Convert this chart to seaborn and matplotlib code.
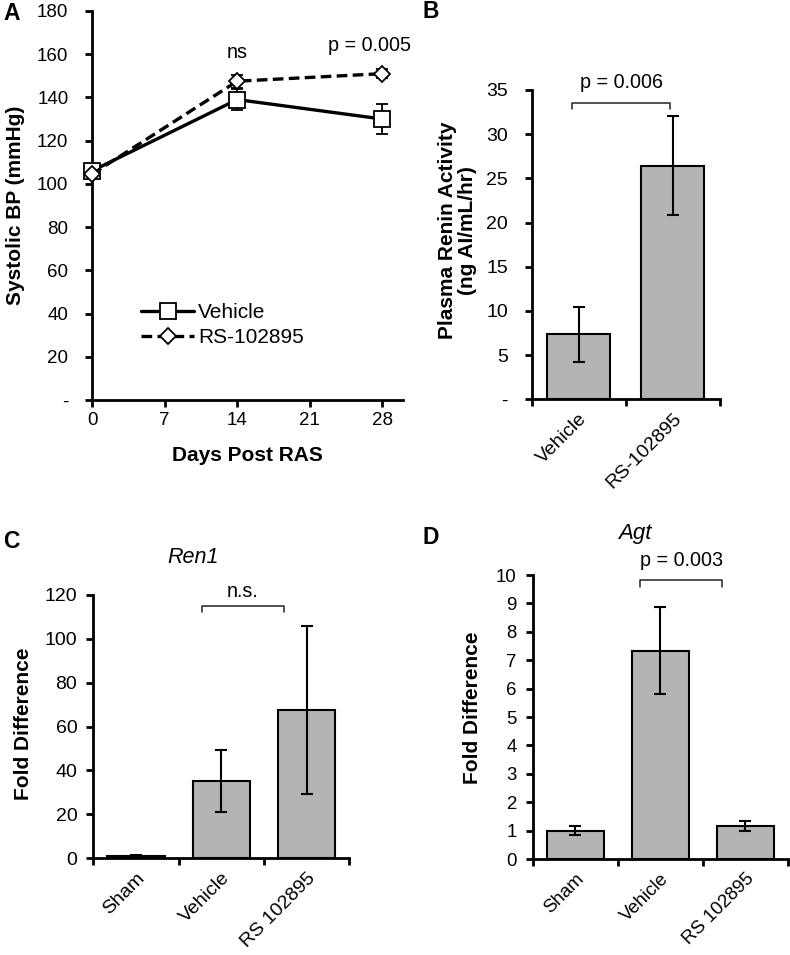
import numpy as np
import pandas as pd
import matplotlib
matplotlib.use("Agg")
import matplotlib.pyplot as plt
import seaborn as sns
from matplotlib.ticker import FixedLocator, FuncFormatter

# ---------------- data ----------------
days = [0, 14, 28]
vehicle_bp = [106, 139, 130]
vehicle_bp_err = [2, 5, 7]
rs_bp = [104.5, 147.5, 151]
rs_bp_err = [1.5, 3, 2]

pra_groups = ["Vehicle", "RS-102895"]
pra_values = [7.35, 26.4]
pra_err = [3.1, 5.6]

gene_groups = ["Sham", "Vehicle", "RS 102895"]
ren1_values = [1.0, 35.2, 67.5]
ren1_err = [0.3, 14.2, 38.2]
agt_values = [1.0, 7.33, 1.16]
agt_err = [0.17, 1.53, 0.17]

x_ticks_a = [0, 7, 14, 21, 28]
y_ticks_a = [0, 20, 40, 60, 80, 100, 120, 140, 160, 180]
y_ticks_b = [0, 5, 10, 15, 20, 25, 30, 35]
y_ticks_c = [0, 20, 40, 60, 80, 100, 120]
y_ticks_d = list(range(0, 11))

# ---------------- style ----------------
sns.set_theme(style="ticks")
plt.rcParams["font.family"] = ["Liberation Sans", "DejaVu Sans"]
plt.rcParams["axes.linewidth"] = 2.0
plt.rcParams["xtick.color"] = "black"
plt.rcParams["ytick.color"] = "black"
plt.rcParams["axes.edgecolor"] = "black"
plt.rcParams["text.color"] = "black"
plt.rcParams["axes.labelcolor"] = "black"

BAR_COLOR = "#b4b4b4"
LABEL_FS = 15

fig = plt.figure(figsize=(7.9, 9.55), dpi=100)
axA = fig.add_axes([0.1165, 0.5812, 0.3937, 0.4073])
axB = fig.add_axes([0.673, 0.5819, 0.2384, 0.3239])
axC = fig.add_axes([0.1181, 0.1013, 0.324, 0.2757])
axD = fig.add_axes([0.6743, 0.1005, 0.3232, 0.2974])

dash_fmt = FuncFormatter(lambda v, p: "-" if v == 0 else f"{v:g}")

def style_axes(ax, fs, ypad):
    sns.despine(ax=ax)
    ax.spines["left"].set_linewidth(2.0)
    ax.spines["bottom"].set_linewidth(2.0)
    ax.tick_params(axis="both", which="both", direction="out", length=5,
                   width=2.0, labelsize=fs, colors="black")
    ax.tick_params(axis="y", pad=ypad)

# ---------------- Panel A ----------------
dfA = pd.DataFrame({"day": days * 2,
                    "bp": vehicle_bp + rs_bp,
                    "err": vehicle_bp_err + rs_bp_err,
                    "group": ["Vehicle"] * 3 + ["RS-102895"] * 3})
veh = dfA[dfA.group == "Vehicle"]
rs = dfA[dfA.group == "RS-102895"]

axA.errorbar(veh.day, veh.bp, yerr=veh.err, fmt="none", ecolor="black",
             elinewidth=1.3, capsize=4, capthick=1.3, zorder=2)
axA.errorbar(rs.day, rs.bp, yerr=rs.err, fmt="none", ecolor="black",
             elinewidth=1.3, capsize=4, capthick=1.3, zorder=2)
sns.lineplot(data=veh, x="day", y="bp", ax=axA, color="black", lw=2.4,
             marker="s", markersize=11, markerfacecolor="white",
             markeredgecolor="black", markeredgewidth=1.3,
             label="Vehicle", zorder=3, clip_on=False)
sns.lineplot(data=rs, x="day", y="bp", ax=axA, color="black", lw=2.4,
             linestyle=(0, (3.2, 1.6)), marker="D", markersize=8,
             markerfacecolor="white", markeredgecolor="black",
             markeredgewidth=1.3, label="RS-102895", zorder=4, clip_on=False)
axA.set_xlim(0, 30)
axA.set_ylim(0, 180)
axA.xaxis.set_major_locator(FixedLocator(x_ticks_a))
axA.yaxis.set_major_locator(FixedLocator(y_ticks_a))
axA.yaxis.set_major_formatter(dash_fmt)
style_axes(axA, 13.5, 12)
axA.set_xlabel("Days Post RAS", fontsize=LABEL_FS, fontweight="bold")
axA.set_ylabel("Systolic BP (mmHg)", fontsize=LABEL_FS, fontweight="bold")
axA.yaxis.set_label_coords(-0.215, 0.5)
axA.xaxis.set_label_coords(0.5, -0.118)
leg = axA.legend(loc="upper left", bbox_to_anchor=(0.097, 0.297), frameon=False,
                 fontsize=15, handlelength=2.55, handletextpad=0.2,
                 labelspacing=0.3)
axA.text(14, 161, "ns", ha="center", va="center", fontsize=14.2)
axA.text(26.8, 164, "p = 0.005", ha="center", va="center", fontsize=14.2)

# ---------------- bar helper ----------------
def bar_panel(ax, groups, values, errs, ylim, yticks, fmt=None, fs=12, ypad=6):
    df = pd.DataFrame({"group": groups, "value": values, "err": errs})
    sns.barplot(data=df, x="group", y="value", ax=ax, color=BAR_COLOR,
                errorbar=None, width=0.67, edgecolor="black", linewidth=1.5,
                saturation=1)
    ax.errorbar(np.arange(len(groups)), df.value, yerr=df.err, fmt="none",
                ecolor="black", elinewidth=1.5, capsize=4, capthick=1.5)
    ax.set_xlim(-0.5, len(groups) - 0.5)
    ax.set_ylim(*ylim)
    ax.yaxis.set_major_locator(FixedLocator(yticks))
    if fmt is not None:
        ax.yaxis.set_major_formatter(fmt)
    style_axes(ax, fs, ypad)
    ax.xaxis.set_minor_locator(FixedLocator(np.arange(-0.5, len(groups), 1.0)))
    ax.tick_params(axis="x", which="major", length=0, pad=8)
    ax.tick_params(axis="x", which="minor", length=5, width=2.0)
    ax.set_xticks(np.arange(len(groups)))
    ax.set_xticklabels(groups, rotation=45, ha="right", rotation_mode="anchor",
                       fontsize=fs)
    ax.set_xlabel("")

def bracket(ax, x0, x1, y, drop, text, ty):
    ax.plot([x0, x0, x1, x1], [y - drop, y, y, y - drop], color="#222222",
            lw=1.1, clip_on=False)
    ax.text((x0 + x1) / 2, ty, text, ha="center", va="center", fontsize=14.2,
            clip_on=False)

# ---------------- Panel B ----------------
bar_panel(axB, pra_groups, pra_values, pra_err, (0, 35), y_ticks_b, dash_fmt,
          fs=14, ypad=12)
axB.set_ylabel("Plasma Renin Activity\n(ng AI/mL/hr)", fontsize=LABEL_FS,
               fontweight="bold", linespacing=1.05)
axB.yaxis.set_label_coords(-0.292, 0.547)
bracket(axB, -0.07, 0.97, 33.5, 0.6, "p = 0.006", 35.9)

# ---------------- Panel C ----------------
bar_panel(axC, gene_groups, ren1_values, ren1_err, (0, 120), y_ticks_c, fs=14,
          ypad=6.5)
axC.set_ylabel("Fold Difference", fontsize=LABEL_FS, fontweight="bold")
axC.yaxis.set_label_coords(-0.2355, 0.51)
bracket(axC, 0.77, 1.74, 115, 2.6, "n.s.", 121.5)

# ---------------- Panel D ----------------
bar_panel(axD, gene_groups, agt_values, agt_err, (0, 10), y_ticks_d, fs=13.4,
          ypad=6.5)
axD.set_ylabel("Fold Difference", fontsize=LABEL_FS, fontweight="bold")
axD.yaxis.set_label_coords(-0.2, 0.532)
bracket(axD, 0.76, 1.73, 9.82, 0.25, "p = 0.003", 10.5)

# ---------------- titles & panel letters ----------------
fig.text(193 / 790, 1 - 557 / 955, "Ren1", style="italic", fontsize=15.5,
         ha="center", va="center")
fig.text(635 / 790, 1 - 533 / 955, "Agt", style="italic", fontsize=16,
         ha="center", va="center")
for lab, x, y in [("A", 12, 14), ("B", 431, 12), ("C", 11, 542), ("D", 431, 538)]:
    fig.text(x / 790, 1 - y / 955, lab, fontsize=16.5, fontweight="bold",
             ha="center", va="center")

fig.savefig("out.png", dpi=100)
